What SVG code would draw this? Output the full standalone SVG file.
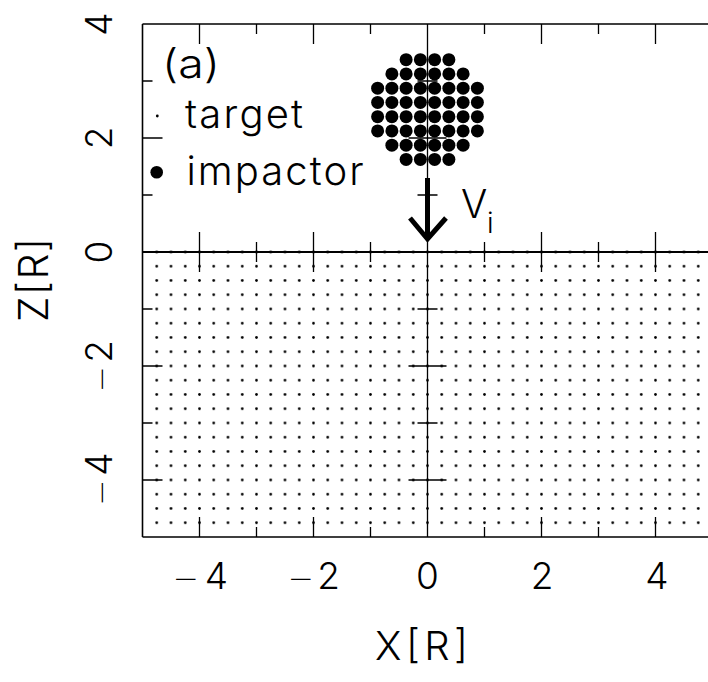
<svg xmlns="http://www.w3.org/2000/svg" width="708" height="682" viewBox="0 0 708 682">
  <style>
    .txt { font-family: "Inter", "Liberation Sans", "DejaVu Sans", sans-serif; font-weight: 300; fill: #000; }
    .mn { font-family: "DejaVu Sans", "Liberation Sans", sans-serif; font-weight: 200; font-size: 31px; }
    .frame { fill: none; stroke: #000; stroke-width: 1.6; }
    .tick { stroke: #000; stroke-width: 1.3; fill: none; }
    .axis { stroke: #000; stroke-width: 2; fill: none; }
    .imp { fill: #000; }
  </style>
  <defs>
    <pattern id="grid" patternUnits="userSpaceOnUse" x="420.375" y="244.875" width="14.25" height="14.25">
      <circle cx="7.125" cy="7.125" r="1.35" fill="#000"/>
    </pattern>
    <circle id="bigdot" r="6.5" class="imp"/>
  </defs>
  <rect width="708" height="682" fill="#fff"/>

  <g id="target">
    <rect x="149" y="245" width="557" height="284" fill="url(#grid)"/>
  </g>

  <g id="axes">
    <path class="frame" d="M142.5,24 H712 M142.5,24 V537 M142.5,537 H712"/>
    <path class="axis" d="M142.5,252 H712"/>
    <path class="tick" d="M427.5,24 V537"/>
    <!-- top ticks -->
    <path class="tick" d="M199.5,24 v20 M256.5,24 v10 M313.5,24 v20 M370.5,24 v10 M484.5,24 v10 M541.5,24 v20 M598.5,24 v10 M655.5,24 v20"/>
    <!-- bottom ticks -->
    <path class="tick" d="M199.5,537 v-20 M256.5,537 v-10 M313.5,537 v-20 M370.5,537 v-10 M484.5,537 v-10 M541.5,537 v-20 M598.5,537 v-10 M655.5,537 v-20"/>
    <!-- left ticks -->
    <path class="tick" d="M142.5,81 h10 M142.5,138 h20 M142.5,195 h10 M142.5,309 h10 M142.5,366 h20 M142.5,423 h10 M142.5,480 h20"/>
    <!-- ticks on z=0 line -->
    <path class="tick" d="M199.5,232 v40 M256.5,242 v20 M313.5,232 v40 M370.5,242 v20 M484.5,242 v20 M541.5,232 v40 M598.5,242 v20 M655.5,232 v40"/>
    <!-- ticks on x=0 line -->
    <path class="tick" d="M417.5,81 h20 M408.5,138 h38 M417.5,195 h20 M417.5,309 h20 M408.5,366 h38 M417.5,423 h20 M408.5,480 h38"/>
  </g>

  <g id="impactor">
    <use href="#bigdot" x="406.125" y="59.625"/><use href="#bigdot" x="420.375" y="59.625"/><use href="#bigdot" x="434.625" y="59.625"/><use href="#bigdot" x="448.875" y="59.625"/>
    <use href="#bigdot" x="391.875" y="73.875"/><use href="#bigdot" x="406.125" y="73.875"/><use href="#bigdot" x="420.375" y="73.875"/><use href="#bigdot" x="434.625" y="73.875"/><use href="#bigdot" x="448.875" y="73.875"/><use href="#bigdot" x="463.125" y="73.875"/>
    <use href="#bigdot" x="377.625" y="88.125"/><use href="#bigdot" x="391.875" y="88.125"/><use href="#bigdot" x="406.125" y="88.125"/><use href="#bigdot" x="420.375" y="88.125"/><use href="#bigdot" x="434.625" y="88.125"/><use href="#bigdot" x="448.875" y="88.125"/><use href="#bigdot" x="463.125" y="88.125"/><use href="#bigdot" x="477.375" y="88.125"/>
    <use href="#bigdot" x="377.625" y="102.375"/><use href="#bigdot" x="391.875" y="102.375"/><use href="#bigdot" x="406.125" y="102.375"/><use href="#bigdot" x="420.375" y="102.375"/><use href="#bigdot" x="434.625" y="102.375"/><use href="#bigdot" x="448.875" y="102.375"/><use href="#bigdot" x="463.125" y="102.375"/><use href="#bigdot" x="477.375" y="102.375"/>
    <use href="#bigdot" x="377.625" y="116.625"/><use href="#bigdot" x="391.875" y="116.625"/><use href="#bigdot" x="406.125" y="116.625"/><use href="#bigdot" x="420.375" y="116.625"/><use href="#bigdot" x="434.625" y="116.625"/><use href="#bigdot" x="448.875" y="116.625"/><use href="#bigdot" x="463.125" y="116.625"/><use href="#bigdot" x="477.375" y="116.625"/>
    <use href="#bigdot" x="377.625" y="130.875"/><use href="#bigdot" x="391.875" y="130.875"/><use href="#bigdot" x="406.125" y="130.875"/><use href="#bigdot" x="420.375" y="130.875"/><use href="#bigdot" x="434.625" y="130.875"/><use href="#bigdot" x="448.875" y="130.875"/><use href="#bigdot" x="463.125" y="130.875"/><use href="#bigdot" x="477.375" y="130.875"/>
    <use href="#bigdot" x="391.875" y="145.125"/><use href="#bigdot" x="406.125" y="145.125"/><use href="#bigdot" x="420.375" y="145.125"/><use href="#bigdot" x="434.625" y="145.125"/><use href="#bigdot" x="448.875" y="145.125"/><use href="#bigdot" x="463.125" y="145.125"/>
    <use href="#bigdot" x="406.125" y="159.375"/><use href="#bigdot" x="420.375" y="159.375"/><use href="#bigdot" x="434.625" y="159.375"/><use href="#bigdot" x="448.875" y="159.375"/>
  </g>

  <g id="velocity-arrow">
    <path d="M427.5,178 V238" stroke="#000" stroke-width="5" fill="none"/>
    <path d="M410,218 L427.5,239 L446,218" stroke="#000" stroke-width="5" fill="none" stroke-linejoin="miter"/>
    <text class="txt" x="461" y="218" font-size="39">V</text>
    <text class="txt" x="487" y="233" font-size="28">i</text>
  </g>

  <g id="legend">
    <text class="txt" x="162" y="78" font-size="40" textLength="58" lengthAdjust="spacingAndGlyphs">(a)</text>
    <circle cx="157.3" cy="116" r="1.4" fill="#000"/>
    <text class="txt" x="185" y="128" font-size="40" textLength="118" lengthAdjust="spacing">target</text>
    <circle cx="156.7" cy="172.3" r="6.3" fill="#000"/>
    <text class="txt" x="186.5" y="185" font-size="40" textLength="177" lengthAdjust="spacing">impactor</text>
  </g>

  <g id="x-labels" class="txt" font-size="37" text-anchor="middle">
    <text x="200.5" y="589" textLength="55" lengthAdjust="spacing"><tspan class="mn">−</tspan>4</text>
    <text x="314" y="589" textLength="52" lengthAdjust="spacing"><tspan class="mn">−</tspan>2</text>
    <text x="427.5" y="589">0</text>
    <text x="542" y="589">2</text>
    <text x="657" y="589">4</text>
    <text x="421.5" y="660" font-size="40" textLength="93" lengthAdjust="spacing">X[R]</text>
  </g>

  <g id="y-labels" class="txt" font-size="37" text-anchor="middle">
    <text transform="translate(112,24) rotate(-90)">4</text>
    <text transform="translate(112,138) rotate(-90)">2</text>
    <text transform="translate(112,252) rotate(-90)">0</text>
    <text transform="translate(112,366) rotate(-90)" textLength="52" lengthAdjust="spacing"><tspan class="mn">−</tspan>2</text>
    <text transform="translate(112,479) rotate(-90)" textLength="53" lengthAdjust="spacing"><tspan class="mn">−</tspan>4</text>
    <text transform="translate(48,280) rotate(-90)" font-size="41" textLength="84" lengthAdjust="spacing">Z[R]</text>
  </g>
</svg>
